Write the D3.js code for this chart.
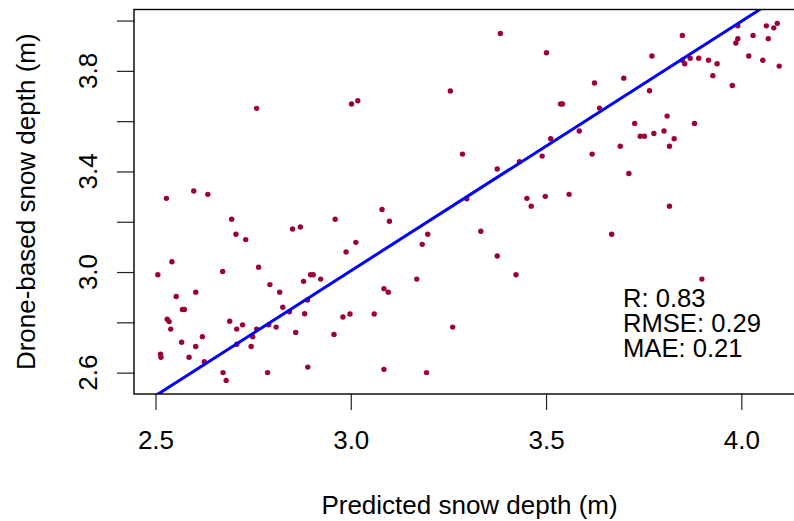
<!DOCTYPE html>
<html>
<head>
<meta charset="utf-8">
<script src="https://cdn.jsdelivr.net/npm/d3@7"></script>
<style>
  html, body { margin: 0; padding: 0; background: #fff; }
  svg { display: block; font-family: "Liberation Sans", Arial, sans-serif; }
</style>
</head>
<body>
<svg id="chart" width="794" height="521"></svg>
<script>
// predicted vs drone-based snow depth (m)
const predicted = [2.759,3.002,3.018,2.528,2.598,2.634,3.383,3.501,3.255,3.286,
  3.537,3.542,3.585,3.512,3.490,3.432,3.375,3.451,3.498,3.559,3.297,
  3.849,3.771,3.991,4.064,4.092,4.083,4.030,4.069,3.991,3.986,
  4.019,4.055,4.097,3.869,3.855,3.891,3.916,3.938,3.927,3.977,
  3.624,3.699,3.765,3.637,3.727,3.810,3.741,3.752,3.776,3.802,
  3.828,3.816,3.880,3.690,3.618,3.712,
  2.695,2.706,2.731,2.851,2.871,2.960,3.013,2.988,
  2.542,2.506,2.672,2.764,2.793,2.818,2.879,2.897,2.904,2.923,
  2.553,2.603,2.569,2.574,2.826,2.843,2.889,2.882,
  2.530,2.535,2.539,2.690,2.708,2.723,2.759,2.790,2.809,2.749,
  2.620,2.567,2.603,2.708,2.745,2.859,2.980,2.998,2.957,
  2.513,2.514,2.586,2.625,2.673,2.681,2.787,2.890,
  3.080,3.099,3.197,3.183,3.462,3.333,3.375,3.423,3.169,3.085,3.096,3.060,3.261,3.085,3.194,
  3.816,3.668,3.899,3.849];

const observed = [3.651,3.668,3.681,3.293,3.322,3.309,3.949,3.872,3.720,3.469,
  3.668,3.668,3.561,3.530,3.461,3.439,3.410,3.293,3.301,3.309,3.291,
  3.941,3.859,3.979,3.979,3.989,3.971,3.941,3.928,3.928,3.911,
  3.859,3.842,3.819,3.850,3.828,3.850,3.842,3.828,3.781,3.742,
  3.752,3.771,3.721,3.652,3.591,3.620,3.540,3.540,3.551,3.561,
  3.530,3.500,3.591,3.500,3.469,3.392,
  3.210,3.150,3.129,3.171,3.179,3.210,3.118,3.080,
  3.041,2.989,3.002,3.019,2.950,2.920,2.963,2.989,2.989,2.972,
  2.903,2.920,2.851,2.851,2.860,2.842,2.889,2.834,
  2.812,2.803,2.773,2.804,2.773,2.790,2.773,2.790,2.781,2.743,
  2.743,2.721,2.704,2.713,2.704,2.760,2.821,2.833,2.752,
  2.673,2.661,2.661,2.643,2.600,2.569,2.600,2.622,
  3.249,3.202,3.150,3.110,3.262,3.162,3.064,2.989,2.972,2.934,2.920,2.833,2.781,2.613,2.600,
  3.262,3.150,2.972,3.842];

// fitted line: observed = intercept + slope * predicted
const fitCoef = [0.027, 0.9925];

const xLim = [2.445, 4.163];
const yLim = [2.515, 4.044];
const xTicks = [2.5, 3.0, 3.5, 4.0];
const yTicks = [2.6, 2.8, 3.0, 3.2, 3.4, 3.6, 3.8, 4.0];
const yLabelled = [2.6, 3.0, 3.4, 3.8];
const statLines = ["R: 0.83", "RMSE: 0.29", "MAE: 0.21"];

const xTitle = "Predicted snow depth (m)";
const yTitle = "Drone-based snow depth (m)";

const plot = {left: 134, right: 805, top: 9.5, bottom: 394};
const fontSize = 26;

const svg = d3.select("#chart");

const x = d3.scaleLinear().domain(xLim).range([plot.left, plot.right]);
const y = d3.scaleLinear().domain(yLim).range([plot.bottom, plot.top]);

svg.append("clipPath").attr("id", "plot-clip")
  .append("rect")
  .attr("x", plot.left).attr("y", plot.top)
  .attr("width", plot.right - plot.left).attr("height", plot.bottom - plot.top);

// x axis
const xAxis = svg.append("g")
  .attr("transform", `translate(0,${plot.bottom})`)
  .call(d3.axisBottom(x).tickValues(xTicks).tickSize(16).tickPadding(39)
    .tickFormat(d3.format(".1f")));
xAxis.select(".domain").remove();
xAxis.selectAll(".tick line").attr("stroke", "#222").attr("stroke-width", 1.2);
xAxis.selectAll(".tick text")
  .attr("dy", null)
  .attr("font-size", fontSize)
  .attr("font-family", "Liberation Sans, Arial, sans-serif")
  .attr("fill", "#000");

// y axis
const yAxis = svg.append("g")
  .attr("transform", `translate(${plot.left},0)`)
  .call(d3.axisLeft(y).tickValues(yTicks).tickSize(17).tickFormat(""));
yAxis.select(".domain").remove();
yAxis.selectAll(".tick line").attr("stroke", "#222").attr("stroke-width", 1.2);

svg.append("g")
  .selectAll("text")
  .data(yLabelled)
  .join("text")
  .attr("transform", (d) => `translate(97,${y(d)}) rotate(-90)`)
  .attr("text-anchor", "middle")
  .attr("font-size", fontSize)
  .text(d3.format(".1f"));

// points
svg.append("g")
  .attr("clip-path", "url(#plot-clip)")
  .selectAll("circle")
  .data(predicted.map((d, i) => [d, observed[i]]))
  .join("circle")
  .attr("cx", (d) => x(d[0]))
  .attr("cy", (d) => y(d[1]))
  .attr("r", 2.7)
  .attr("fill", "#9c003c");

// fit line
const lineX = [xLim[0], xLim[1]];
svg.append("line")
  .attr("clip-path", "url(#plot-clip)")
  .attr("x1", x(lineX[0]))
  .attr("y1", y(fitCoef[0] + fitCoef[1] * lineX[0]))
  .attr("x2", x(lineX[1]))
  .attr("y2", y(fitCoef[0] + fitCoef[1] * lineX[1]))
  .attr("stroke", "#0000ff")
  .attr("stroke-width", 3);

// box
svg.append("rect")
  .attr("x", plot.left).attr("y", plot.top)
  .attr("width", plot.right - plot.left).attr("height", plot.bottom - plot.top)
  .attr("fill", "none")
  .attr("stroke", "#000")
  .attr("stroke-width", 1.4);

// stats
svg.append("g")
  .selectAll("text")
  .data(statLines)
  .join("text")
  .attr("x", 623)
  .attr("y", (d, i) => 306.7 + i * 25)
  .attr("font-size", 25.6)
  .text((d) => d);

// titles
svg.append("text")
  .attr("x", (plot.left + plot.right) / 2)
  .attr("y", 514)
  .attr("text-anchor", "middle")
  .attr("font-size", fontSize)
  .text(xTitle);

svg.append("text")
  .attr("transform", `translate(35,${(plot.top + plot.bottom) / 2}) rotate(-90)`)
  .attr("text-anchor", "middle")
  .attr("font-size", fontSize)
  .text(yTitle);
</script>
</body>
</html>
